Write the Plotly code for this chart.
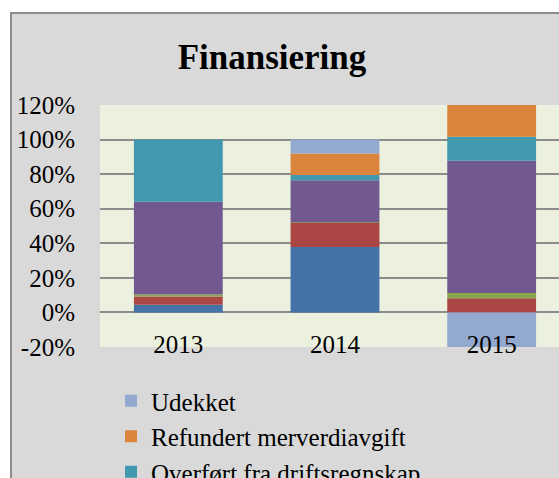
import plotly.graph_objects as go

years = ["2013", "2014", "2015"]

series_names = [
    "Bruk av fond",
    "Salg av anleggsmidler",
    "Tilskudd til investeringer",
    "Bruk av lånemidler",
    "Overført fra driftsregnskap",
    "Refundert merverdiavgift",
    "Udekket",
]
bruk_av_fond = [4.4, 37.8, 0.0]
salg = [4.8, 14.1, 8.2]
tilskudd = [1.2, 0.3, 3.1]
laan = [53.6, 24.2, 76.5]
overfort = [36.0, 3.1, 13.8]
mva = [0.0, 12.5, 18.4]
udekket = [0.0, 8.0, -20.0]
values = [bruk_av_fond, salg, tilskudd, laan, overfort, mva, udekket]
colors = ["#4572A7", "#AA4643", "#89A54E", "#71588F", "#4198AF", "#DB843D", "#93A9CF"]

y_ticks = [-20, 0, 20, 40, 60, 80, 100, 120]
y_ticktext = [f"{v}%" for v in y_ticks]

FONT = "Liberation Serif"

fig = go.Figure()
for name, vals, col in zip(series_names, values, colors):
    fig.add_trace(go.Bar(x=years, y=vals, name=name, marker=dict(color=col, line=dict(width=0))))

# The chart is larger than the visible window (the reference is a crop of it)
W, H = 600, 720
L, T = 100, 105
plot_right, plot_bottom = 570, 347
R, B = W - plot_right, H - plot_bottom
pw, ph = W - L - R, H - T - B

def px_x(px):
    return (px - L) / pw

def px_y(py):
    return (H - B - py) / ph

fig.update_layout(
    width=W, height=H,
    margin=dict(l=L, r=R, t=T, b=B, autoexpand=False),
    paper_bgcolor="white",
    plot_bgcolor="rgba(0,0,0,0)",
    barmode="relative",
    bargap=0.433,
    font=dict(family=FONT, size=25, color="black"),
    title=dict(text="<b>Finansiering</b>", font=dict(family=FONT, size=35, color="black"),
               x=272 / W, xanchor="center", y=1 - 57 / H, yanchor="middle"),
    showlegend=True,
    legend=dict(traceorder="reversed", x=px_x(111), xanchor="left", y=px_y(378), yanchor="top",
                bgcolor="rgba(0,0,0,0)", font=dict(family=FONT, size=25), itemwidth=30),
    shapes=[
        dict(type="rect", xref="paper", yref="paper", x0=px_x(11), x1=px_x(W + 50), y0=px_y(H + 50), y1=px_y(13),
             fillcolor="#D9D9D9", line=dict(color="#8C8C8C", width=2), layer="below"),
        dict(type="rect", xref="paper", yref="paper", x0=0, x1=1, y0=0, y1=1,
             fillcolor="#EBF1DE", line=dict(width=0), layer="below"),
    ],
)

fig.update_xaxes(
    range=[-0.5, 2.5], showgrid=False, zeroline=False, showline=False,
    anchor="free", position=px_y(327), ticks="", tickfont=dict(family=FONT, size=25),
)
fig.update_yaxes(
    range=[-20, 120], tickvals=y_ticks, ticktext=y_ticktext,
    showgrid=True, gridcolor="#8C8C8C", gridwidth=1.5,
    zeroline=True, zerolinecolor="#8C8C8C", zerolinewidth=1.5,
    showline=False, ticks="outside", ticklen=19, tickcolor="rgba(0,0,0,0)",
    tickfont=dict(family=FONT, size=25),
)

fig.write_html(
    "out.html",
    config={"displayModeBar": False},
    post_script="document.body.style.margin='0px';document.body.style.overflow='hidden';"
                "document.documentElement.style.overflow='hidden';",
)
